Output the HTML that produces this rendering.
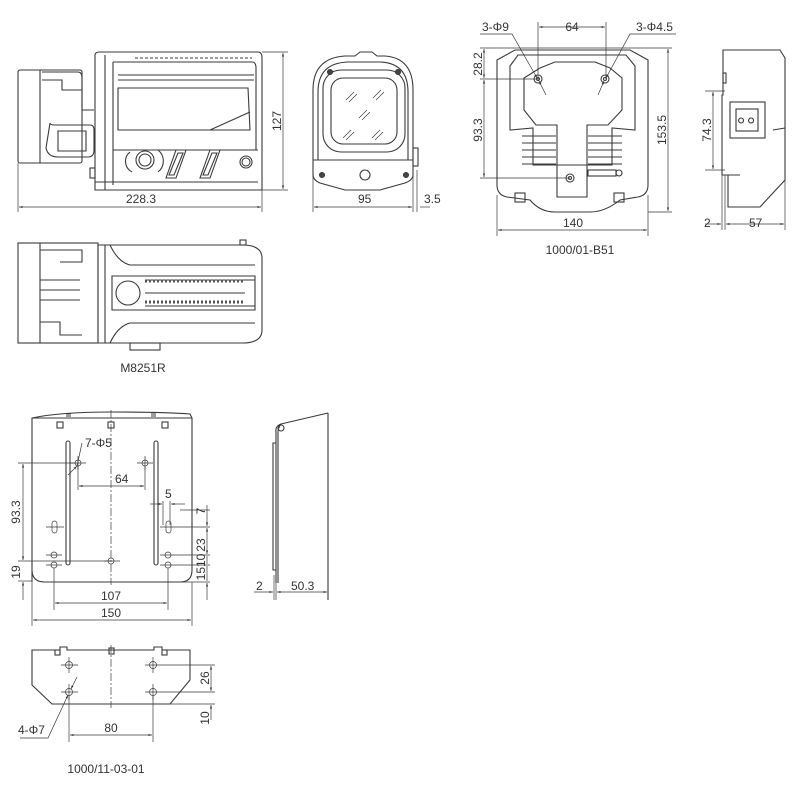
<!DOCTYPE html>
<html><head><meta charset="utf-8"><style>
html,body{margin:0;padding:0;background:#fff;}
svg{display:block}
text{font-family:"Liberation Sans",sans-serif;fill:#333;font-size:12px}
</style></head><body>
<svg width="800" height="800" viewBox="0 0 800 800" xmlns="http://www.w3.org/2000/svg">
<defs>
<marker id="a" viewBox="0 0 10 10" refX="10" refY="5" markerWidth="8" markerHeight="5" orient="auto-start-reverse"><path d="M0,2 L10,5 L0,8z" fill="#333"/></marker>
</defs>
<g fill="none" stroke="#3a3a3a" stroke-width="1.1">
<!-- ===== Side view ===== -->
<rect x="18" y="70" width="64" height="93" rx="2"/>
<line x1="40" y1="70" x2="40" y2="163"/>
<path d="M42,72 H78 Q82,72 82,78 V110 H94"/>
<path d="M42,80 H62 V90 H82"/>
<path d="M50,123 Q50,125 55,125 H90 Q94,125 94,130 V150 Q94,157 88,157 H58 Q48,157 46,148 Z"/>
<path d="M58,131 H86 V151 H58 Z"/>
<path d="M95,55 Q95,52 100,52 H258 Q262,52 262,58 V190 H95 Z"/>
<line x1="105" y1="55" x2="105" y2="190"/>
<line x1="113" y1="62" x2="113" y2="185"/>
<path d="M113,62 H252 Q256,62 256,68 V150"/>
<path d="M118,75 H254 M118,80 H254"/>
<path d="M118,88 H248 L250,130 H118 Z"/>
<path d="M210,130 L250,112"/>
<path d="M113,150 H258"/>
<path d="M95,182 H258"/>
<path d="M135,58 H252" stroke-dasharray="3,2"/>
<circle cx="145" cy="160" r="9"/>
<circle cx="145" cy="160" r="6"/>
<path d="M130,152 A12,12 0 0 0 132,172"/>
<path d="M158,150 A14,14 0 0 1 158,172"/>
<path d="M176,150 H186 L176,178 H166 Z"/>
<path d="M178,153 H183 L174,175 H169 Z"/>
<path d="M210,150 H220 L210,178 H200 Z"/>
<path d="M212,153 H217 L208,175 H203 Z"/>
<circle cx="246" cy="162" r="6"/>
<circle cx="246" cy="162" r="4"/>
<rect x="90" y="168" width="5" height="10"/>
<!-- dims -->
<line x1="262" y1="52" x2="288" y2="52" stroke-width=".7"/>
<line x1="262" y1="190" x2="288" y2="190" stroke-width=".7"/>
<line x1="283" y1="53" x2="283" y2="189" marker-start="url(#a)" marker-end="url(#a)" stroke-width=".7"/>
<line x1="18" y1="163" x2="18" y2="212" stroke-width=".7"/>
<line x1="262" y1="190" x2="262" y2="212" stroke-width=".7"/>
<line x1="19" y1="207" x2="261" y2="207" marker-start="url(#a)" marker-end="url(#a)" stroke-width=".7"/>
<!-- ===== Front view ===== -->
<path d="M313,90 Q313,58 345,56 H355 L360,52 H372 L377,56 H385 Q413,58 413,90 V175 Q413,180 405,183 L380,190 H345 L320,183 Q313,180 313,175 Z"/>
<path d="M318,92 Q318,63 348,62 H380 Q408,63 408,92 V160 H318 Z"/>
<rect x="323" y="70" width="82" height="82" rx="18"/>
<rect x="331" y="78" width="66" height="66" rx="12"/>
<path d="M346,100 l8,-8 M349,102 l8,-8 M373,98 l8,-8 M376,100 l8,-8 M359,118 l8,-8 M362,120 l8,-8 M343,138 l8,-8 M346,140 l8,-8 M372,138 l8,-8 M375,140 l8,-8" stroke-width=".7"/>
<path d="M313,160 H413"/>
<circle cx="365" cy="175" r="5"/>
<circle cx="330" cy="72" r="2.5" fill="#444"/><circle cx="398" cy="72" r="2.5" fill="#444"/>
<circle cx="322" cy="175" r="2.5" fill="#444"/><circle cx="406" cy="175" r="2.5" fill="#444"/>
<rect x="413" y="148" width="5" height="18"/>
<line x1="313" y1="170" x2="313" y2="212" stroke-width=".7"/>
<line x1="413" y1="170" x2="413" y2="212" stroke-width=".7"/>
<line x1="417" y1="170" x2="417" y2="212" stroke-width=".7"/>
<line x1="314" y1="207" x2="412" y2="207" marker-start="url(#a)" marker-end="url(#a)" stroke-width=".7"/>
<line x1="420" y1="207" x2="430" y2="207" stroke-width=".7"/>
<!-- ===== Top view ===== -->
<rect x="18" y="243" width="80" height="100"/>
<line x1="40" y1="243" x2="40" y2="343"/>
<path d="M40,250 H82 V262 H60 M40,280 H80 M40,290 H80 M40,300 H80 M40,322 H60 V335 H82"/>
<path d="M98,245 H242 Q262,245 262,258 V330 Q262,343 242,343 H98 Z"/>
<line x1="105" y1="245" x2="105" y2="343"/>
<path d="M110,245 Q118,262 130,265 H255 M110,343 Q118,326 130,323 H255"/>
<path d="M112,276 H255 V310 H112 Z"/>
<circle cx="128" cy="293" r="12"/>
<path d="M145,280 H255 M145,306 H255"/>
<path d="M145,281 h100" stroke-width="3" stroke="#555" stroke-dasharray="2,2"/>
<path d="M145,302 h100" stroke-width="3" stroke="#555" stroke-dasharray="2,2"/>
<path d="M145,293 H245"/>
<rect x="130" y="343" width="30" height="7"/>
<rect x="240" y="240" width="6" height="5"/>
<!-- ===== B51 front ===== -->
<path d="M497,60 L515,50 H630 L648,60 V185 Q648,195 638,197 L620,200 Q605,212 590,212 H555 Q540,212 530,200 L507,197 Q497,195 497,185 Z"/>
<path d="M510,66 L518,55 H626 L635,66 V130 L612,128 V165 H533 V128 L510,130 Z"/>
<path d="M524,78 L540,68 L555,62 H595 L610,68 L622,78 V110 L608,125 H587 V197 H557 V125 H536 L524,110 Z"/>
<path d="M522,136 H556 M522,143 H556 M522,150 H556 M522,157 H556 M522,164 H556 M588,136 H622 M588,143 H622 M588,150 H622 M588,157 H622 M588,164 H622"/>
<rect x="588" y="170" width="28" height="6"/><circle cx="619" cy="173" r="3"/>
<circle cx="538" cy="79" r="4"/><circle cx="538" cy="79" r="1.5"/>
<circle cx="605" cy="79" r="4"/><circle cx="605" cy="79" r="1.5"/>
<circle cx="570" cy="178" r="4"/><circle cx="570" cy="178" r="1.5"/>
<rect x="515" y="193" width="10" height="9"/><rect x="614" y="193" width="10" height="9"/>
<!-- B51 dims -->
<g stroke-width=".7">
<line x1="538" y1="22" x2="538" y2="79"/><line x1="606" y1="22" x2="606" y2="79"/>
<line x1="539" y1="27" x2="605" y2="27" marker-start="url(#a)" marker-end="url(#a)"/>
<line x1="480" y1="48" x2="672" y2="48"/>
<line x1="480" y1="79" x2="540" y2="79"/>
<line x1="480" y1="178" x2="570" y2="178"/>
<line x1="648" y1="212" x2="672" y2="212"/>
<line x1="484" y1="49" x2="484" y2="78" marker-start="url(#a)" marker-end="url(#a)"/>
<line x1="484" y1="80" x2="484" y2="177" marker-start="url(#a)" marker-end="url(#a)"/>
<line x1="668" y1="49" x2="668" y2="211" marker-start="url(#a)" marker-end="url(#a)"/>
<line x1="497" y1="195" x2="497" y2="236"/><line x1="648" y1="195" x2="648" y2="236"/>
<line x1="498" y1="230" x2="647" y2="230" marker-start="url(#a)" marker-end="url(#a)"/>
<path d="M480,34 H512 L537,78" marker-end="url(#a)"/>
<line x1="546" y1="95" x2="539" y2="81" marker-end="url(#a)"/>
<path d="M676,34 H630 L606,78" marker-end="url(#a)"/>
<line x1="598" y1="95" x2="604" y2="81" marker-end="url(#a)"/>
</g>
<!-- B51 side -->
<path d="M723,50 H780 L785,58 V180 L760,207 H728 V175 H722 V95 H723 Z"/>
<rect x="730" y="102" width="35" height="36"/>
<rect x="736" y="109" width="22" height="22"/>
<path d="M741,118 a2.5,2.5 0 1 0 0.1,0 M751,118 a2.5,2.5 0 1 0 0.1,0"/>
<path d="M773,130 L785,128 M728,175 H740"/>
<rect x="723" y="73" width="3" height="10"/>
<g stroke-width=".7">
<line x1="705" y1="91" x2="725" y2="91"/><line x1="705" y1="170" x2="725" y2="170"/>
<line x1="713" y1="92" x2="713" y2="169" marker-start="url(#a)" marker-end="url(#a)"/>
<line x1="722" y1="175" x2="722" y2="230"/><line x1="725" y1="175" x2="725" y2="230"/><line x1="785" y1="180" x2="785" y2="230"/>
<line x1="705" y1="224" x2="721" y2="224" marker-end="url(#a)"/>
<line x1="726" y1="224" x2="784" y2="224" marker-start="url(#a)" marker-end="url(#a)"/>
</g>
<!-- ===== Bracket front ===== -->
<path d="M32,582 V418 Q60,412 111,412 Q165,412 190,414 L192,418 V570 Q192,582 180,582 H45 Q32,582 32,570 Z"/>
<line x1="32" y1="418" x2="192" y2="418"/>
<rect x="57" y="422" width="6" height="6"/><rect x="108" y="422" width="6" height="6"/><rect x="162" y="422" width="6" height="6"/>
<path d="M66,414 h5 M66,416 h5 M151,414 h5 M151,416 h5"/>
<rect x="66" y="441" width="4" height="124" rx="2"/>
<rect x="154" y="441" width="4" height="124" rx="2"/>
<line x1="111" y1="410" x2="111" y2="585" stroke-dasharray="8,2,2,2" stroke-width=".7"/>
<g stroke-width=".7">
<circle cx="78" cy="463" r="3"/><circle cx="145" cy="463" r="3"/>
<rect x="52" y="521" width="5" height="12" rx="2.5"/><rect x="166" y="521" width="5" height="12" rx="2.5"/>
<circle cx="54" cy="555" r="3"/><circle cx="168" cy="555" r="3"/>
<circle cx="54" cy="565" r="3"/><circle cx="168" cy="565" r="3"/>
<circle cx="111" cy="561" r="3"/>
<path d="M70,463 H86 M78,456 V470 M137,463 H153 M145,456 V470 M46,527 H64 M160,527 H210 M46,555 H62 M160,555 H210 M46,565 H62 M160,565 H210 M104,561 H120"/>
<line x1="18" y1="463" x2="76" y2="463"/><line x1="18" y1="561" x2="111" y2="561"/><line x1="18" y1="581" x2="32" y2="581"/>
<line x1="23" y1="464" x2="23" y2="560" marker-start="url(#a)" marker-end="url(#a)"/>
<line x1="23" y1="600" x2="23" y2="582" marker-end="url(#a)"/>
<line x1="78" y1="466" x2="78" y2="490"/><line x1="145" y1="466" x2="145" y2="490"/>
<line x1="79" y1="486" x2="144" y2="486" marker-start="url(#a)" marker-end="url(#a)"/>
<path d="M68,475 L77,466" marker-end="url(#a)"/><path d="M77,466 L82,443"/>
<line x1="163" y1="501" x2="163" y2="525"/><line x1="170" y1="501" x2="170" y2="525"/>
<line x1="150" y1="504" x2="162" y2="504" marker-end="url(#a)"/><line x1="185" y1="504" x2="171" y2="504" marker-end="url(#a)"/>
<line x1="180" y1="510" x2="210" y2="510"/><line x1="180" y1="582" x2="210" y2="582"/>
<line x1="207" y1="505" x2="207" y2="526" marker-end="url(#a)"/>
<line x1="207" y1="528" x2="207" y2="554" marker-start="url(#a)" marker-end="url(#a)"/>
<line x1="207" y1="556" x2="207" y2="564"/>
<line x1="207" y1="566" x2="207" y2="581"/>
<line x1="207" y1="600" x2="207" y2="583" marker-end="url(#a)"/>
<line x1="54" y1="568" x2="54" y2="610"/><line x1="168" y1="568" x2="168" y2="610"/>
<line x1="55" y1="603" x2="167" y2="603" marker-start="url(#a)" marker-end="url(#a)"/>
<line x1="32" y1="582" x2="32" y2="626"/><line x1="192" y1="582" x2="192" y2="626"/>
<line x1="33" y1="620" x2="191" y2="620" marker-start="url(#a)" marker-end="url(#a)"/>
</g>
<!-- bracket side -->
<path d="M328,413 L281,424 Q275,426 276,432 V583 M281,424 Q278,428 278,432 V583"/>
<line x1="328" y1="413" x2="328" y2="600"/>
<circle cx="281" cy="428" r="3"/>
<path d="M276,443 H273 V570 H276"/>
<g stroke-width=".7">
<line x1="274" y1="575" x2="274" y2="600"/><line x1="276" y1="575" x2="276" y2="600"/>
<line x1="254" y1="592" x2="273" y2="592" marker-end="url(#a)"/>
<line x1="277" y1="592" x2="327" y2="592" marker-start="url(#a)" marker-end="url(#a)"/>
</g>
<!-- bottom plate -->
<path d="M32,650 H60 V647 H67 V650 H154 V647 H162 V650 H190 V680 L170,704 H52 L32,685 Z"/>
<rect x="55" y="650" width="5" height="5"/><rect x="109" y="648" width="5" height="6"/><rect x="162" y="650" width="5" height="5"/>
<line x1="111" y1="645" x2="111" y2="708" stroke-dasharray="8,2,2,2" stroke-width=".7"/>
<g stroke-width=".7">
<circle cx="69" cy="665" r="3.5"/><circle cx="153" cy="665" r="3.5"/>
<circle cx="69" cy="692" r="3.5"/><circle cx="153" cy="692" r="3.5"/>
<path d="M61,665 H78 M69,657 V673 M145,665 H215 M153,657 V673 M61,692 H78 M69,684 V700 M145,692 H215 M153,684 V700 M170,704 H215"/>
<line x1="211" y1="666" x2="211" y2="691" marker-start="url(#a)" marker-end="url(#a)"/>
<line x1="211" y1="720" x2="211" y2="705" marker-end="url(#a)"/>
<line x1="69" y1="696" x2="69" y2="742"/><line x1="153" y1="696" x2="153" y2="742"/>
<line x1="70" y1="735" x2="152" y2="735" marker-start="url(#a)" marker-end="url(#a)"/>
<path d="M20,738 H48 L68,695" marker-end="url(#a)"/>
<line x1="77" y1="677" x2="71" y2="689" marker-end="url(#a)"/>
</g>
</g>
<!-- Texts -->
<text x="126" y="203">228.3</text>
<text x="358" y="203">95</text>
<text x="424" y="203">3.5</text>
<text x="281" y="121" transform="rotate(-90 281 121)" text-anchor="middle">127</text>
<text x="143" y="372" font-size="14" text-anchor="middle">M8251R</text>
<text x="572" y="31" text-anchor="middle">64</text>
<text x="482" y="31">3-Φ9</text>
<text x="636" y="31">3-Φ4.5</text>
<text x="482" y="64" transform="rotate(-90 482 64)" text-anchor="middle">28.2</text>
<text x="482" y="130" transform="rotate(-90 482 130)" text-anchor="middle">93.3</text>
<text x="666" y="130" transform="rotate(-90 666 130)" text-anchor="middle">153.5</text>
<text x="573" y="227" text-anchor="middle">140</text>
<text x="580" y="254" font-size="14" text-anchor="middle">1000/01-B51</text>
<text x="711" y="130" transform="rotate(-90 711 130)" text-anchor="middle">74.3</text>
<text x="704" y="227">2</text>
<text x="749" y="227">57</text>
<text x="85" y="447">7-Φ5</text>
<text x="115" y="483">64</text>
<text x="165" y="498">5</text>
<text x="20" y="512" transform="rotate(-90 20 512)" text-anchor="middle">93.3</text>
<text x="20" y="572" transform="rotate(-90 20 572)" text-anchor="middle">19</text>
<text x="205" y="511" transform="rotate(-90 205 511)" text-anchor="middle">7</text>
<text x="205" y="545" transform="rotate(-90 205 545)" text-anchor="middle">23</text>
<text x="205" y="567" transform="rotate(-90 205 567)" text-anchor="middle">1510</text>
<text x="111" y="600" text-anchor="middle">107</text>
<text x="111" y="617" text-anchor="middle">150</text>
<text x="256" y="590">2</text>
<text x="291" y="590">50.3</text>
<text x="209" y="678" transform="rotate(-90 209 678)" text-anchor="middle">26</text>
<text x="209" y="718" transform="rotate(-90 209 718)" text-anchor="middle">10</text>
<text x="111" y="732" text-anchor="middle">80</text>
<text x="18" y="734">4-Φ7</text>
<text x="106" y="773" font-size="14" text-anchor="middle">1000/11-03-01</text>
</svg>
</body></html>
